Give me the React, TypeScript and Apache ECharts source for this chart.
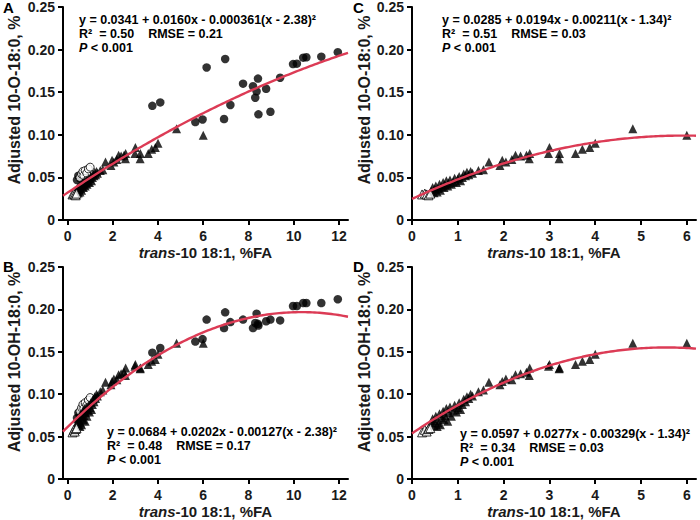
import React, { useEffect, useRef } from "react";
import * as echarts from "echarts";

// Filled triangles: trans-10 18:1 (%FA), adjusted 10-O-18:0 and 10-OH-18:0 (%)
const triX = [0.42, 0.45, 0.48, 0.5, 0.52, 0.55, 0.57, 0.6, 0.62, 0.65, 0.68, 0.7, 0.72, 0.75, 0.78, 0.8, 0.83, 0.86, 0.9, 0.93, 0.97, 1.0, 1.03, 1.06, 1.1, 1.13, 1.17, 1.2, 1.24, 1.28, 1.32, 1.45, 1.56, 1.68, 1.92, 1.97, 2.05, 2.18, 2.26, 2.37, 2.5, 2.56, 2.57, 2.98, 3.0, 3.21, 3.22, 3.57, 3.72, 3.88, 4.0, 4.82, 6.0];
const triO = [0.034, 0.038, 0.032, 0.036, 0.04, 0.033, 0.037, 0.042, 0.035, 0.039, 0.044, 0.038, 0.041, 0.046, 0.04, 0.043, 0.047, 0.042, 0.045, 0.049, 0.044, 0.048, 0.051, 0.046, 0.05, 0.054, 0.052, 0.056, 0.053, 0.057, 0.055, 0.058, 0.059, 0.068, 0.064, 0.07, 0.068, 0.071, 0.076, 0.075, 0.076, 0.072, 0.078, 0.078, 0.085, 0.072, 0.078, 0.078, 0.083, 0.085, 0.09, 0.107, 0.0996];
const triOH = [0.066, 0.071, 0.063, 0.069, 0.074, 0.062, 0.066, 0.077, 0.064, 0.072, 0.08, 0.07, 0.075, 0.083, 0.068, 0.078, 0.085, 0.074, 0.081, 0.087, 0.079, 0.084, 0.09, 0.082, 0.088, 0.094, 0.091, 0.097, 0.095, 0.1, 0.098, 0.103, 0.105, 0.114, 0.111, 0.115, 0.118, 0.117, 0.123, 0.124, 0.126, 0.122, 0.131, 0.133, 0.135, 0.13, 0.131, 0.135, 0.139, 0.141, 0.147, 0.16, 0.16];

// Open triangles
const otX = [0.22, 0.28, 0.32, 0.36, 0.4];
const otO = [0.03, 0.031, 0.03, 0.029, 0.031];
const otOH = [0.055, 0.058, 0.056, 0.059, 0.06];

// Filled circles
const circX = [0.42, 0.48, 0.55, 3.75, 4.1, 5.65, 5.97, 6.15, 6.92, 6.97, 7.2, 7.76, 8.2, 8.3, 8.36, 8.42, 8.44, 8.78, 8.97, 9.4, 9.97, 10.14, 10.42, 10.56, 11.22, 11.95];
const circO = [0.047, 0.052, 0.049, 0.134, 0.138, 0.115, 0.118, 0.179, 0.1185, 0.189, 0.135, 0.16, 0.157, 0.1435, 0.151, 0.166, 0.124, 0.154, 0.127, 0.167, 0.183, 0.1835, 0.1905, 0.191, 0.1917, 0.197];
const circOH = [0.072, 0.078, 0.075, 0.149, 0.1545, 0.162, 0.165, 0.188, 0.178, 0.1965, 0.185, 0.188, 0.178, 0.184, 0.195, 0.183, 0.181, 0.186, 0.188, 0.187, 0.204, 0.204, 0.2075, 0.2075, 0.2075, 0.212];

// Open circles
const ocX = [0.55, 0.62, 0.68, 0.72, 0.78, 0.85, 0.92, 1.0];
const ocO = [0.05, 0.054, 0.057, 0.052, 0.058, 0.055, 0.06, 0.062];
const ocOH = [0.08, 0.084, 0.088, 0.083, 0.09, 0.087, 0.093, 0.096];

// Fitted quadratic: y = a + b*x - c*(x - m)^2, panels A, B, C, D
const fitA = [0.0341, 0.0684, 0.0285, 0.0597];
const fitB = [0.016, 0.0202, 0.0194, 0.0277];
const fitC = [0.000361, 0.00127, 0.00211, 0.00329];
const fitM = [2.38, 2.38, 1.34, 1.34];

const fitText = [
  "y = 0.0341 + 0.0160x - 0.000361(x - 2.38)²",
  "y = 0.0684 + 0.0202x - 0.00127(x - 2.38)²",
  "y = 0.0285 + 0.0194x - 0.00211(x - 1.34)²",
  "y = 0.0597 + 0.0277x - 0.00329(x - 1.34)²",
];
const statText = [
  "R²  = 0.50    RMSE = 0.21",
  "R²  = 0.48    RMSE = 0.17",
  "R²  = 0.51    RMSE = 0.03",
  "R²  = 0.34    RMSE = 0.03",
];
const panelLetters = ["A", "B", "C", "D"];
const yTitles = ["Adjusted 10-O-18:0, %", "Adjusted 10-OH-18:0, %", "Adjusted 10-O-18:0, %", "Adjusted 10-OH-18:0, %"];
const xTicksWide = [0, 2, 4, 6, 8, 10, 12];
const xTicksNarrow = [0, 1, 2, 3, 4, 5, 6];

const FONT = '"Liberation Sans", Arial, Helvetica, sans-serif';
const INK = "#1a1a1a";
const RED = "#dc3b55";

const zip = (xs: number[], ys: number[]) => xs.map((x, i) => [x, ys[i]]);

function fitCurve(k: number, x0: number, x1: number) {
  const pts: number[][] = [];
  const n = 120;
  for (let i = 0; i <= n; i++) {
    const x = x0 + ((x1 - x0) * i) / n;
    const y = fitA[k] + fitB[k] * x - fitC[k] * (x - fitM[k]) ** 2;
    pts.push([x, y]);
  }
  return pts;
}

export default function App() {
  const ref = useRef<HTMLDivElement>(null);

  useEffect(() => {
    if (!ref.current) return;
    const chart = echarts.init(ref.current, null, { renderer: "svg" });

    const panels = [
      { left: 63, top: 7, width: 285, height: 213, xMin: -0.2, xMax: 12.4, ticks: xTicksWide, tri: triO, ot: otO, circ: circO, oc: ocO, withCircles: true },
      { left: 63, top: 267, width: 285, height: 212, xMin: -0.2, xMax: 12.4, ticks: xTicksWide, tri: triOH, ot: otOH, circ: circOH, oc: ocOH, withCircles: true },
      { left: 412, top: 7, width: 284, height: 213, xMin: 0, xMax: 6.2, ticks: xTicksNarrow, tri: triO, ot: otO, circ: circO, oc: ocO, withCircles: false },
      { left: 412, top: 267, width: 284, height: 212, xMin: 0, xMax: 6.2, ticks: xTicksNarrow, tri: triOH, ot: otOH, circ: circOH, oc: ocOH, withCircles: false },
    ];

    const grid = panels.map((p) => ({ left: p.left, top: p.top, width: p.width, height: p.height }));

    const xAxis = panels.map((p, i) => ({
      type: "value",
      gridIndex: i,
      min: p.xMin,
      max: p.xMax,
      name: "{i|trans}{b|-10 18:1, %FA}",
      nameLocation: "middle",
      nameGap: 25,
      nameTextStyle: {
        rich: {
          i: { fontFamily: FONT, fontSize: 15, fontWeight: "bold", fontStyle: "italic", color: INK },
          b: { fontFamily: FONT, fontSize: 15, fontWeight: "bold", color: INK },
        },
      },
      axisLine: { onZero: false, lineStyle: { color: "#000", width: 2 } },
      axisTick: { show: true, length: 5, lineStyle: { color: "#000", width: 2 }, customValues: p.ticks },
      axisLabel: {
        customValues: p.ticks,
        margin: 9,
        fontFamily: FONT,
        fontSize: 14,
        fontWeight: "bold",
        color: INK,
      },
      splitLine: { show: false },
    }));

    const yAxis = panels.map((p, i) => ({
      type: "value",
      gridIndex: i,
      min: 0,
      max: 0.25,
      interval: 0.05,
      axisLine: { show: true, onZero: false, lineStyle: { color: "#000", width: 2 } },
      axisTick: { show: true, length: 5, lineStyle: { color: "#000", width: 2 } },
      axisLabel: {
        margin: 8,
        fontFamily: FONT,
        fontSize: 14,
        fontWeight: "bold",
        color: INK,
        formatter: (v: number) => (v === 0 ? "0" : v.toFixed(2)),
      },
      splitLine: { show: false },
    }));

    const series: any[] = [];
    panels.forEach((p, i) => {
      const common = { xAxisIndex: i, yAxisIndex: i, type: "scatter", z: 2 };
      if (p.withCircles) {
        series.push({ ...common, symbol: "circle", symbolSize: 8.5, itemStyle: { color: "#000" }, data: zip(circX, p.circ) });
        series.push({ ...common, symbol: "circle", symbolSize: 8, itemStyle: { color: "#fff", borderColor: "#000", borderWidth: 1 }, data: zip(ocX, p.oc) });
      }
      series.push({ ...common, symbol: "triangle", symbolSize: 9, itemStyle: { color: "#000" }, data: zip(triX, p.tri) });
      series.push({ ...common, symbol: "triangle", symbolSize: 9, itemStyle: { color: "#fff", borderColor: "#000", borderWidth: 1 }, data: zip(otX, p.ot) });
      series.push({
        type: "line",
        xAxisIndex: i,
        yAxisIndex: i,
        z: 5,
        showSymbol: false,
        silent: true,
        lineStyle: { color: RED, width: 2.4 },
        data: fitCurve(i, p.xMin, p.xMax),
      });
    });

    const annoPos = [
      { x: 79, y: 13 },
      { x: 107, y: 425 },
      { x: 442, y: 13 },
      { x: 460, y: 427 },
    ];
    const letterPos = [
      { x: 3, y: 0 },
      { x: 3, y: 259 },
      { x: 353, y: 0 },
      { x: 353, y: 259 },
    ];
    const yTitlePos = [
      { x: 14, y: 100 },
      { x: 14, y: 362 },
      { x: 364, y: 100 },
      { x: 364, y: 362 },
    ];

    const graphic: any[] = [];
    panels.forEach((_, i) => {
      graphic.push({
        type: "text",
        x: annoPos[i].x,
        y: annoPos[i].y,
        style: {
          text: `{n|${fitText[i]}}\n{n|${statText[i]}}\n{i|P}{n| < 0.001}`,
          rich: {
            n: { fontFamily: FONT, fontWeight: "bold", fontSize: 12.5, lineHeight: 14, color: "#000" },
            i: { fontFamily: FONT, fontWeight: "bold", fontStyle: "italic", fontSize: 12.5, lineHeight: 14, color: "#000" },
          },
          fontFamily: FONT,
          fontWeight: "bold",
          fontSize: 12.5,
          fill: "#000",
        },
      });
      graphic.push({
        type: "text",
        x: letterPos[i].x,
        y: letterPos[i].y,
        style: { text: panelLetters[i], fontFamily: FONT, fontWeight: "bold", fontSize: 15, fill: "#000" },
      });
      graphic.push({
        type: "text",
        x: yTitlePos[i].x,
        y: yTitlePos[i].y,
        rotation: Math.PI / 2,
        style: {
          text: yTitles[i],
          fontFamily: FONT,
          fontWeight: "bold",
          fontSize: 16,
          fill: INK,
          align: "center",
          verticalAlign: "middle",
        },
      });
    });

    chart.setOption({
      animation: false,
      backgroundColor: "#fff",
      grid,
      xAxis,
      yAxis,
      series,
      graphic,
    });

    return () => chart.dispose();
  }, []);

  return (
    <div
      ref={ref}
      style={{ position: "fixed", left: 0, top: 0, width: 700, height: 520 }}
    />
  );
}
